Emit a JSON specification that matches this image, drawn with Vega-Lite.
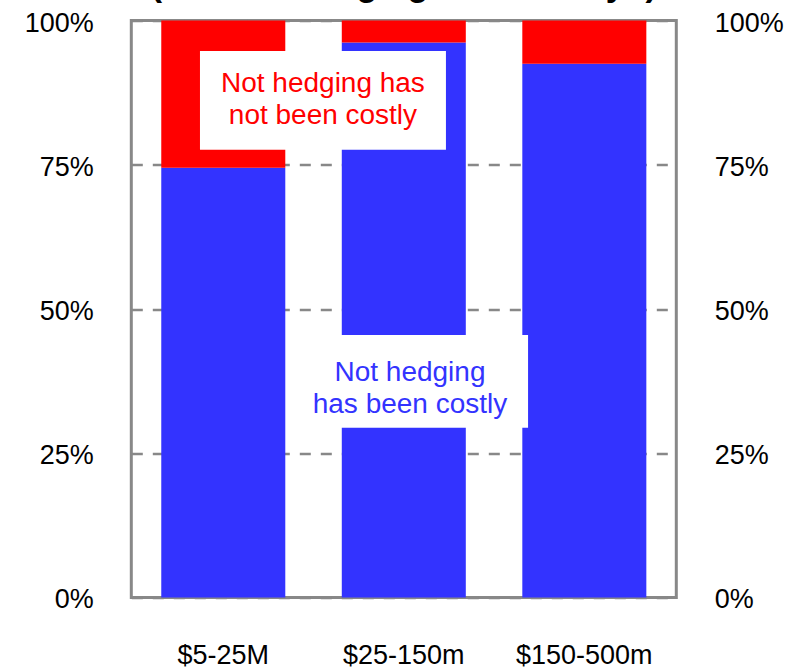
{
  "$schema": "https://vega.github.io/schema/vega-lite/v6.json",
  "autosize": {"type": "none"},
  "width": 545,
  "height": 577,
  "padding": {"left": 131.3, "top": 20.5, "right": 131, "bottom": 71.5},
  "background": "white",
  "title": {
    "text": "(Has not hedging been costly?)",
    "font": "Liberation Sans",
    "fontSize": 34,
    "fontWeight": "bold",
    "color": "black",
    "anchor": "middle",
    "frame": "group",
    "baseline": "alphabetic",
    "offset": -21
  },
  "config": {
    "view": {"stroke": "#888888", "strokeWidth": 3},
    "font": "Liberation Sans"
  },
  "datasets": {
    "bars": [
      {"size": "$5-25M", "series": "Not hedging has been costly", "value": 74.5, "ord": 1},
      {"size": "$5-25M", "series": "Not hedging has not been costly", "value": 25.5, "ord": 2},
      {"size": "$25-150m", "series": "Not hedging has been costly", "value": 96.2, "ord": 1},
      {"size": "$25-150m", "series": "Not hedging has not been costly", "value": 3.8, "ord": 2},
      {"size": "$150-500m", "series": "Not hedging has been costly", "value": 92.5, "ord": 1},
      {"size": "$150-500m", "series": "Not hedging has not been costly", "value": 7.5, "ord": 2}
    ],
    "boxes": [
      {"x1": 0.378, "x2": 1.732, "y1": 94.7, "y2": 77.6},
      {"x1": 0.863, "x2": 2.184, "y1": 45.5, "y2": 29.4}
    ],
    "notes": [
      {"line": "Not hedging has", "x": 1.055, "y": 87.6, "series": "Not hedging has not been costly"},
      {"line": "not been costly", "x": 1.055, "y": 82.0, "series": "Not hedging has not been costly"},
      {"line": "Not hedging", "x": 1.534, "y": 37.5, "series": "Not hedging has been costly"},
      {"line": "has been costly", "x": 1.534, "y": 32.0, "series": "Not hedging has been costly"}
    ]
  },
  "layer": [
    {
      "data": {"name": "bars"},
      "mark": {"type": "bar"},
      "encoding": {
        "x": {
          "field": "size",
          "type": "nominal",
          "sort": null,
          "scale": {"paddingInner": 0.313, "paddingOuter": 0.166},
          "axis": {
            "title": null,
            "labelAngle": 0,
            "labelFontSize": 27,
            "labelColor": "black",
            "labelFont": "Liberation Sans",
            "ticks": false,
            "tickSize": 0,
            "domain": false,
            "labelPadding": 45
          }
        },
        "y": {
          "field": "value",
          "type": "quantitative",
          "stack": "zero",
          "scale": {"domain": [0, 100], "nice": false},
          "axis": {
            "orient": "left",
            "title": null,
            "values": [0, 25, 50, 75, 100],
            "labelExpr": "datum.value + '%'",
            "labelFontSize": 27,
            "labelColor": "black",
            "labelFont": "Liberation Sans",
            "labelOffset": 2.5,
            "ticks": false,
            "tickSize": 0,
            "domain": false,
            "labelPadding": 38,
            "grid": true,
            "gridColor": "#888888",
            "gridWidth": 2.5,
            "gridDash": [11, 10],
            "gridOpacity": 1
          }
        },
        "color": {
          "field": "series",
          "type": "nominal",
          "scale": {
            "domain": ["Not hedging has been costly", "Not hedging has not been costly"],
            "range": ["#3333FF", "#FF0000"]
          },
          "legend": null
        },
        "order": {"field": "ord", "type": "quantitative"}
      }
    },
    {
      "data": {"name": "boxes"},
      "mark": {"type": "rect", "fill": "white", "stroke": null},
      "encoding": {
        "x": {"field": "x1", "type": "quantitative", "scale": {"domain": [0, 3], "nice": false, "zero": false}, "axis": null},
        "x2": {"field": "x2"},
        "y": {
          "field": "y1",
          "type": "quantitative",
          "scale": {"domain": [0, 100], "nice": false},
          "axis": {
            "orient": "right",
            "title": null,
            "values": [0, 25, 50, 75, 100],
            "labelExpr": "datum.value + '%'",
            "labelFontSize": 27,
            "labelColor": "black",
            "labelFont": "Liberation Sans",
            "labelOffset": 2.5,
            "ticks": false,
            "tickSize": 0,
            "domain": false,
            "labelPadding": 38,
            "grid": false
          }
        },
        "y2": {"field": "y2"}
      }
    },
    {
      "data": {"name": "notes"},
      "mark": {"type": "text", "font": "Liberation Sans", "fontSize": 28, "align": "center", "baseline": "alphabetic"},
      "encoding": {
        "x": {"field": "x", "type": "quantitative", "scale": {"domain": [0, 3], "nice": false, "zero": false}, "axis": null},
        "y": {"field": "y", "type": "quantitative", "scale": {"domain": [0, 100], "nice": false}, "axis": null},
        "text": {"field": "line"},
        "color": {
          "field": "series",
          "type": "nominal",
          "scale": {
            "domain": ["Not hedging has been costly", "Not hedging has not been costly"],
            "range": ["#3333FF", "#FF0000"]
          },
          "legend": null
        }
      }
    }
  ],
  "resolve": {"scale": {"x": "independent", "y": "independent", "color": "independent"}}
}
